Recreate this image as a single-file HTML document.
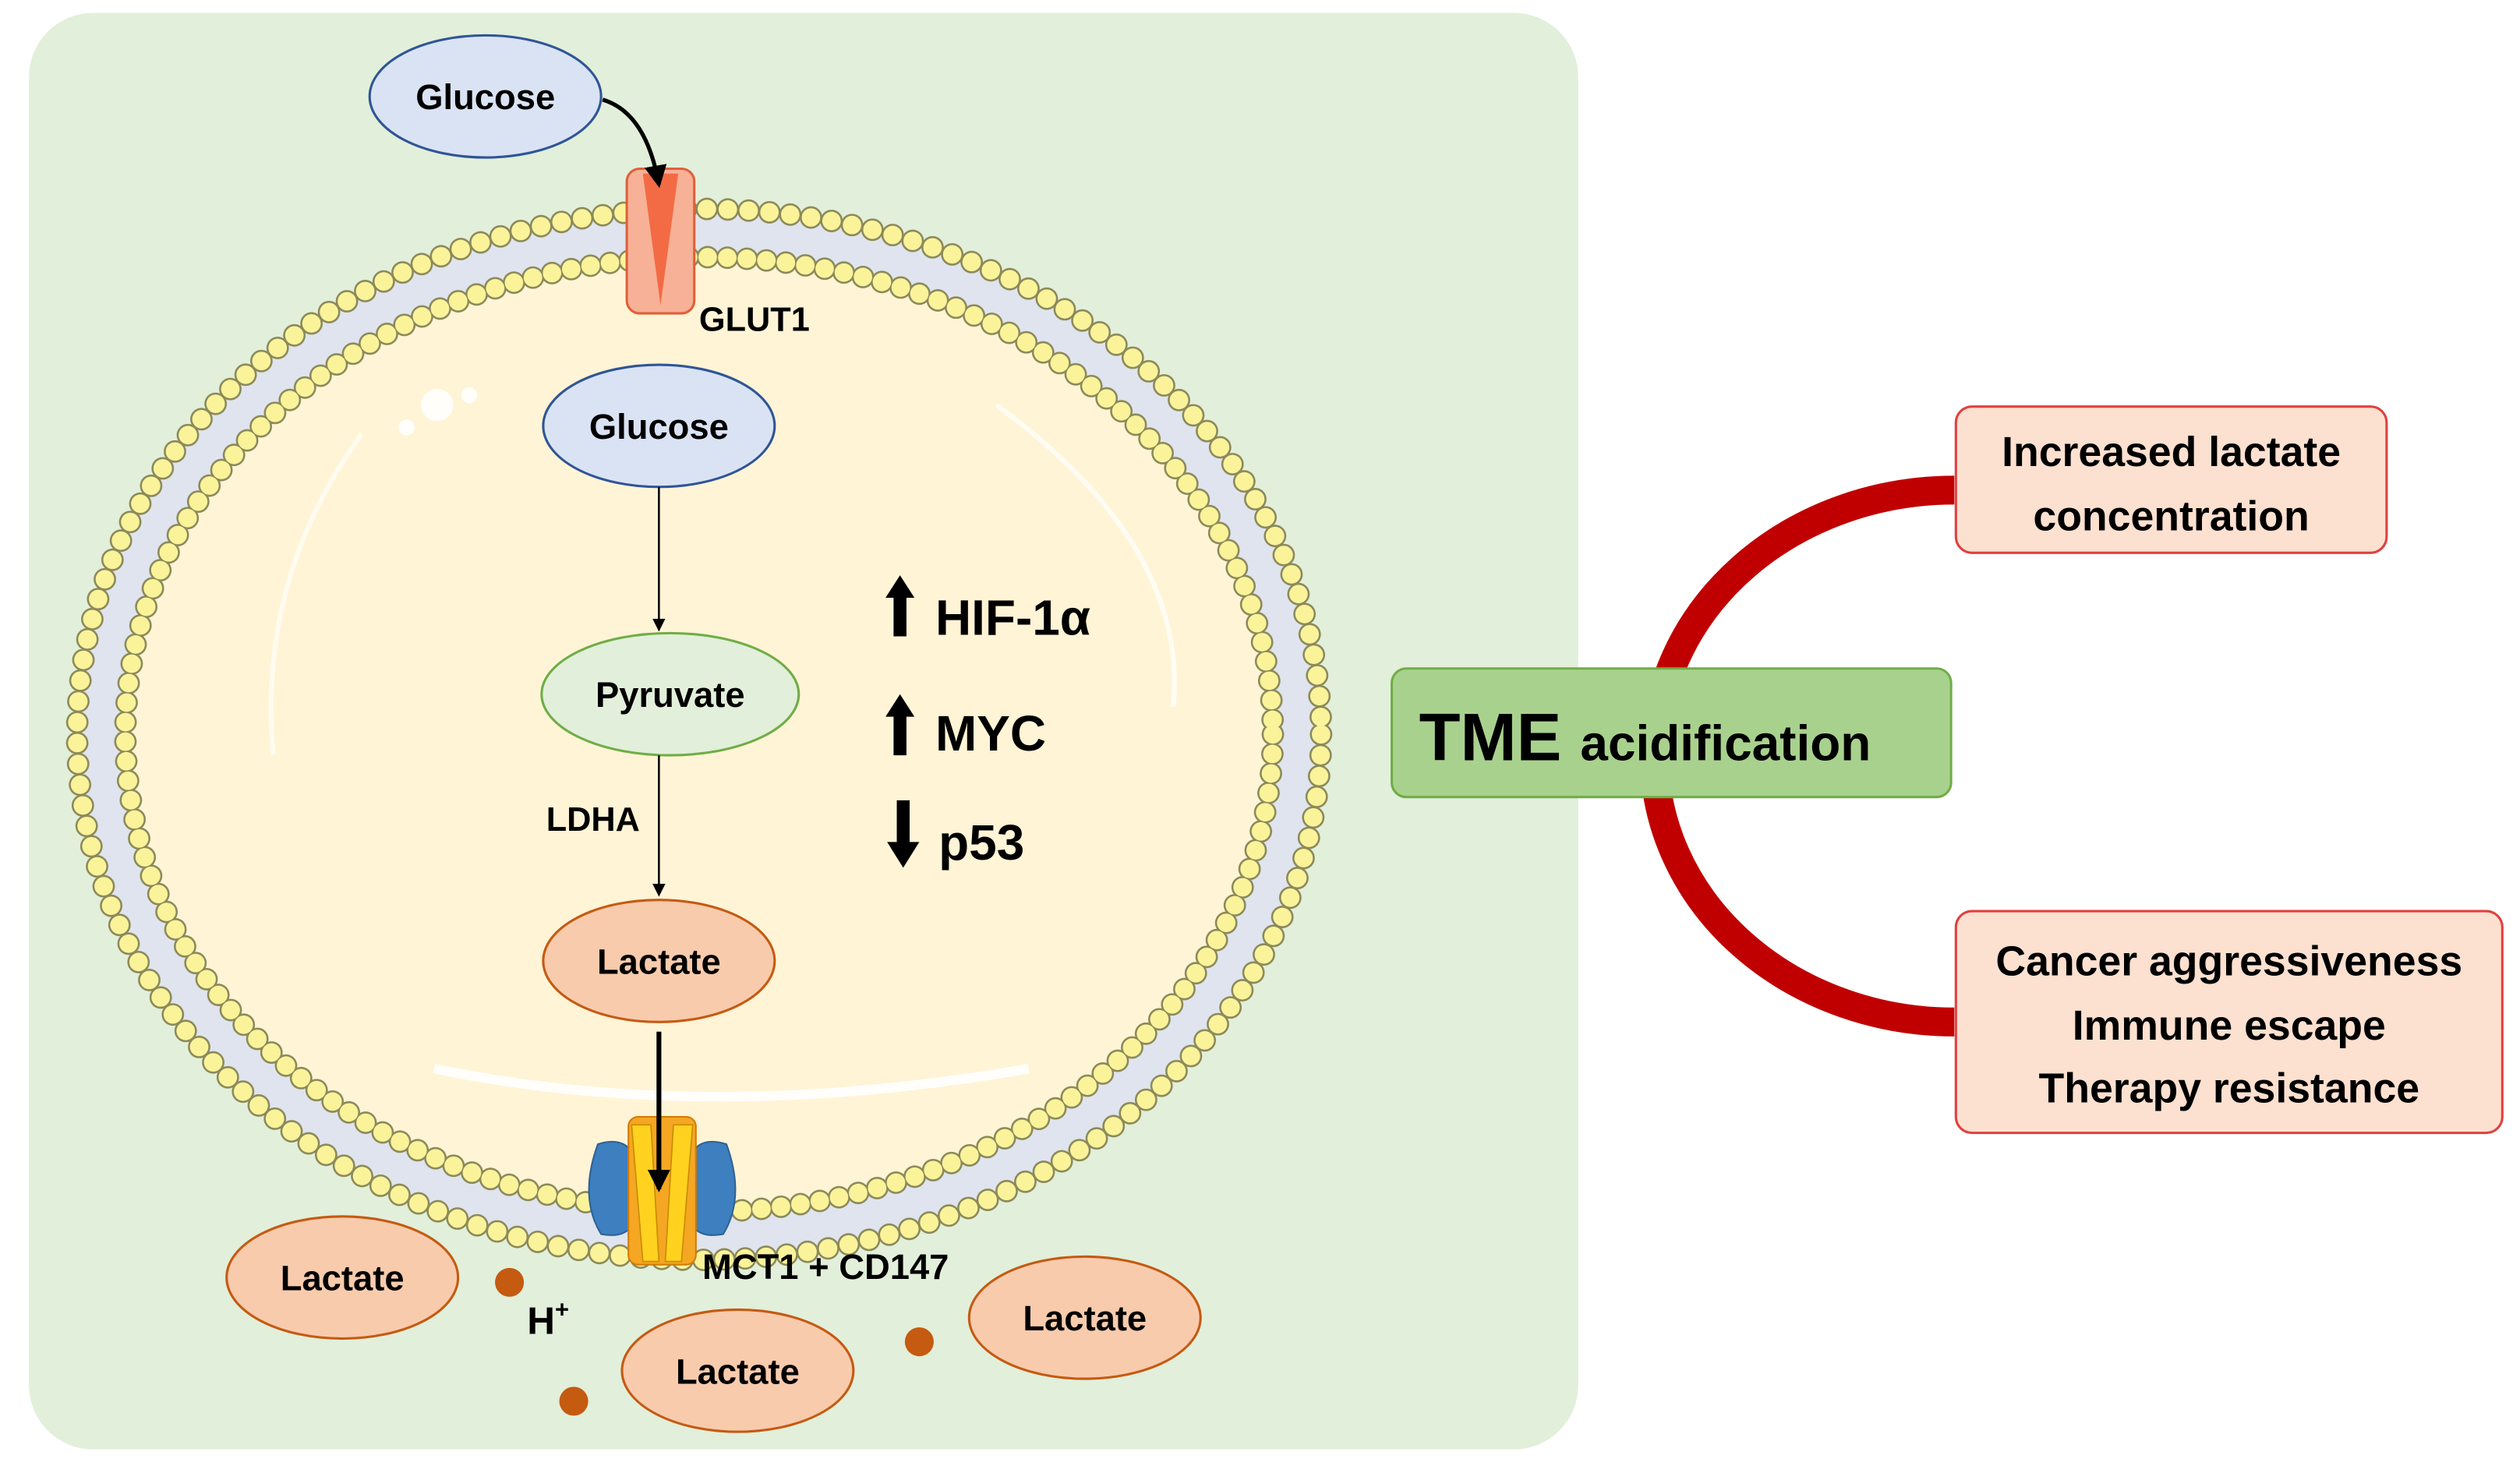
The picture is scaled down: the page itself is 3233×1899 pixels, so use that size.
<!DOCTYPE html>
<html><head><meta charset="utf-8"><style>
html,body{margin:0;padding:0;background:#fff;}
svg{display:block;}
text{font-family:"Liberation Sans",sans-serif;font-weight:bold;fill:#000;}
</style></head><body>
<svg width="3233" height="1899" viewBox="0 0 1568 921" xmlns="http://www.w3.org/2000/svg">
<defs>
<marker id="ah" markerWidth="8" markerHeight="8" refX="7" refY="4" orient="auto" markerUnits="userSpaceOnUse"><path d="M0,0 L8,4 L0,8 Z" fill="#000"/></marker>
<marker id="ah2" markerWidth="14" markerHeight="14" refX="12" refY="7" orient="auto" markerUnits="userSpaceOnUse"><path d="M0,0 L14,7 L0,14 Z" fill="#000"/></marker>
</defs>
<rect x="0" y="0" width="1568" height="921" fill="#fff"/>
<rect x="18" y="8" width="964" height="894" rx="40" fill="#e2efda"/>
<!-- membrane -->
<ellipse cx="435" cy="457" rx="387" ry="327" fill="#dfe4ee" stroke="#9a9a80" stroke-width="1"/>
<ellipse cx="435" cy="457" rx="357" ry="297" fill="#fff4d6"/>
<ellipse cx="435" cy="457" rx="387" ry="327" fill="none" stroke="#8c8a5a" stroke-width="14" stroke-dasharray="0 13" stroke-linecap="round"/>
<ellipse cx="435" cy="457" rx="387" ry="327" fill="none" stroke="#fbf39a" stroke-width="11.5" stroke-dasharray="0 13" stroke-linecap="round"/>
<ellipse cx="435" cy="457" rx="357" ry="297" fill="none" stroke="#8c8a5a" stroke-width="14" stroke-dasharray="0 12.2" stroke-linecap="round"/>
<ellipse cx="435" cy="457" rx="357" ry="297" fill="none" stroke="#fbf39a" stroke-width="11.5" stroke-dasharray="0 12.2" stroke-linecap="round"/>
<!-- highlight -->
<path d="M225,270 Q160,360 170,470" fill="none" stroke="#fff" stroke-width="3" opacity="0.6"/>
<path d="M270,665 Q440,700 640,665" fill="none" stroke="#fff" stroke-width="6" opacity="0.9"/>
<path d="M620,252 Q740,340 730,440" fill="none" stroke="#fff" stroke-width="3" opacity="0.7"/>
<circle cx="272" cy="252" r="10" fill="#fff" opacity="0.9"/><circle cx="292" cy="246" r="5" fill="#fff" opacity="0.9"/><circle cx="253" cy="266" r="5" fill="#fff" opacity="0.9"/>
<!-- GLUT1 -->
<rect x="390" y="105" width="42" height="90" rx="8" fill="#f6b196" stroke="#e0603a" stroke-width="1.5"/>
<path d="M400,108 L411,190 L422,108 Z" fill="#f26b45"/>
<text x="435" y="206" font-size="21">GLUT1</text>
<ellipse cx="302" cy="60" rx="72" ry="38" fill="#dae3f3" stroke="#2f5597" stroke-width="1.5"/>
<text x="302" y="68" font-size="22" text-anchor="middle">Glucose</text>
<path d="M375,62 Q402,70 410,115" fill="none" stroke="#000" stroke-width="2.5" marker-end="url(#ah2)"/>
<!-- inner pathway -->
<ellipse cx="410" cy="265" rx="72" ry="38" fill="#dae3f3" stroke="#2f5597" stroke-width="1.5"/>
<text x="410" y="273" font-size="22" text-anchor="middle">Glucose</text>
<line x1="410" y1="303" x2="410" y2="392" stroke="#000" stroke-width="1.2" marker-end="url(#ah)"/>
<ellipse cx="417" cy="432" rx="80" ry="38" fill="#e2efda" stroke="#70ad47" stroke-width="1.5"/>
<text x="417" y="440" font-size="22" text-anchor="middle">Pyruvate</text>
<line x1="410" y1="470" x2="410" y2="557" stroke="#000" stroke-width="1.2" marker-end="url(#ah)"/>
<text x="369" y="517" font-size="21" text-anchor="middle">LDHA</text>
<ellipse cx="410" cy="598" rx="72" ry="38" fill="#f8cbad" stroke="#c55a11" stroke-width="1.5"/>
<text x="410" y="606" font-size="22" text-anchor="middle">Lactate</text>
<!-- MCT1 -->
<path d="M372,712 Q395,705 396,730 L396,752 Q395,772 374,768 Q360,745 372,712 Z" fill="#3d7fbf" stroke="#2e6294"/>
<path d="M452,712 Q429,705 428,730 L428,752 Q429,772 450,768 Q464,745 452,712 Z" fill="#3d7fbf" stroke="#2e6294"/>
<rect x="391" y="695" width="42" height="92" rx="6" fill="#f5a623" stroke="#d27b00"/>
<path d="M393,700 L400,785 L410,785 L405,700 Z M431,700 L424,785 L414,785 L419,700 Z" fill="#ffd21f" stroke="#c98d00" stroke-width="0.8"/>
<line x1="410" y1="642" x2="410" y2="740" stroke="#000" stroke-width="3" marker-end="url(#ah2)"/>
<text x="437" y="796" font-size="22">MCT1 + CD147</text>
<!-- outside -->
<ellipse cx="213" cy="795" rx="72" ry="38" fill="#f8cbad" stroke="#c55a11" stroke-width="1.5"/>
<text x="213" y="803" font-size="22" text-anchor="middle">Lactate</text>
<ellipse cx="459" cy="853" rx="72" ry="38" fill="#f8cbad" stroke="#c55a11" stroke-width="1.5"/>
<text x="459" y="861" font-size="22" text-anchor="middle">Lactate</text>
<ellipse cx="675" cy="820" rx="72" ry="38" fill="#f8cbad" stroke="#c55a11" stroke-width="1.5"/>
<text x="675" y="828" font-size="22" text-anchor="middle">Lactate</text>
<circle cx="317" cy="798" r="9" fill="#c55a11"/>
<circle cx="357" cy="872" r="9" fill="#c55a11"/>
<circle cx="572" cy="835" r="9" fill="#c55a11"/>
<text x="328" y="830" font-size="24">H<tspan font-size="15" dy="-10">+</tspan></text>
<!-- regulators -->
<path d="M556,396 L556,372 L551,372 L560,358 L569,372 L564,372 L564,396 Z" fill="#000"/>
<text x="582" y="395" font-size="31">HIF-1α</text>
<path d="M556,470 L556,446 L551,446 L560,432 L569,446 L564,446 L564,470 Z" fill="#000"/>
<text x="582" y="467" font-size="31">MYC</text>
<path d="M558,498 L558,524 L552,524 L562,540 L572,524 L566,524 L566,498 Z" fill="#000"/>
<text x="584" y="535" font-size="31">p53</text>
<!-- right side -->
<path d="M1216,305 A186,165 0 0 0 1216,636" fill="none" stroke="#c00000" stroke-width="18"/>
<rect x="866" y="416" width="348" height="80" rx="9" fill="#a9d18e" stroke="#70ad47" stroke-width="1.5"/>
<text x="883" y="473" font-size="42">TME <tspan font-size="31">acidification</tspan></text>
<rect x="1217" y="253" width="268" height="91" rx="10" fill="#fce0d0" stroke="#e04040" stroke-width="1.5"/>
<text x="1351" y="290" font-size="26" text-anchor="middle">Increased lactate</text>
<text x="1351" y="330" font-size="26" text-anchor="middle">concentration</text>
<rect x="1217" y="567" width="340" height="138" rx="10" fill="#fce0d0" stroke="#e04040" stroke-width="1.5"/>
<text x="1387" y="607" font-size="26" text-anchor="middle">Cancer aggressiveness</text>
<text x="1387" y="647" font-size="26" text-anchor="middle">Immune escape</text>
<text x="1387" y="686" font-size="26" text-anchor="middle">Therapy resistance</text>
</svg>
</body></html>
